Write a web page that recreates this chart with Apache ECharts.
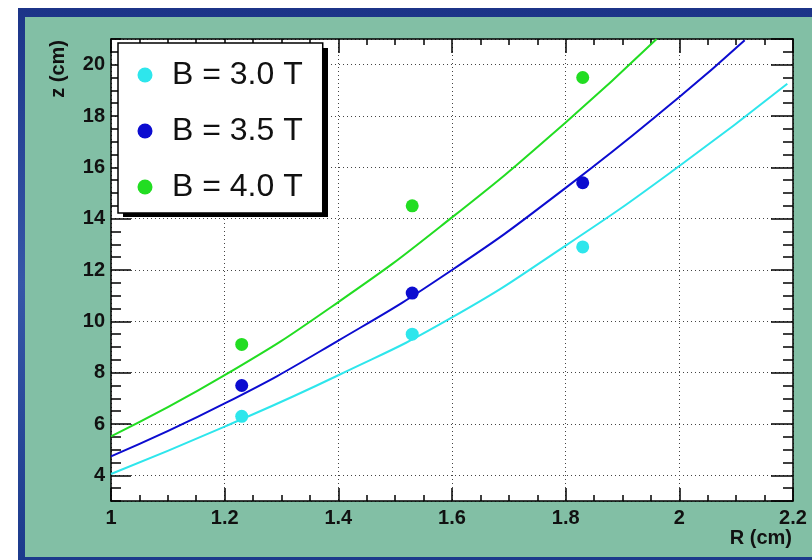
<!DOCTYPE html>
<html>
<head>
<meta charset="utf-8">
<script src="https://cdn.jsdelivr.net/npm/echarts@6/dist/echarts.min.js"></script>
<style>
  html, body { margin: 0; padding: 0; background: #fff; }
  #main { width: 812px; height: 560px; }
</style>
</head>
<body>
<div id="main"></div>
<script>
// measured points
var names = ['B = 3.0 T', 'B = 3.5 T', 'B = 4.0 T']
var colors = ['#2ee6ec', '#0c0cd0', '#22dd22']
var pointR = [1.23, 1.53, 1.83]
var pointZ30 = [6.3, 9.5, 12.9]
var pointZ35 = [7.5, 11.1, 15.4]
var pointZ40 = [9.1, 14.5, 19.5]

// fitted curves
var fitR30 = [1.0, 1.2, 1.4, 1.6, 1.8, 2.0, 2.19]
var fitZ30 = [4.05, 5.9, 7.9, 10.15, 12.95, 16.05, 19.26]
var fitR35 = [1.0, 1.2, 1.4, 1.6, 1.8, 2.0, 2.115]
var fitZ35 = [4.74, 6.8, 9.25, 12.0, 15.2, 18.74, 20.95]
var fitR40 = [1.0, 1.2, 1.4, 1.6, 1.8, 1.96]
var fitZ40 = [5.52, 7.9, 10.75, 14.05, 17.75, 21]

function pairs(xs, ys) {
  return xs.map(function (x, i) { return [x, ys[i]] })
}

var chart = echarts.init(document.getElementById('main'))
var font = 'Liberation Sans, Arial, sans-serif'
var black = '#111'

function scatter(i, ys) {
  return {
    name: names[i],
    type: 'scatter',
    symbolSize: 13,
    itemStyle: { color: colors[i], opacity: 1 },
    data: pairs(pointR, ys),
    z: 2
  }
}
function fit(i, xs, ys) {
  return {
    name: 'fit ' + names[i],
    type: 'line',
    smooth: true,
    showSymbol: false,
    lineStyle: { color: colors[i], width: 2 },
    data: pairs(xs, ys),
    z: 2
  }
}

var option = {
  backgroundColor: '#fff',
  animation: false,
  graphic: [
    {
      type: 'rect', z: -10, silent: true,
      shape: { x: 18, y: 8, width: 794, height: 552 },
      style: {
        fill: {
          type: 'linear', x: 0, y: 0, x2: 0, y2: 1,
          colorStops: [{ offset: 0, color: '#1c3488' }, { offset: 0.5, color: '#3656a8' }, { offset: 1, color: '#1c3a8c' }]
        }
      }
    },
    {
      type: 'rect', z: -9, silent: true,
      shape: { x: 25, y: 17, width: 787, height: 540 },
      style: { fill: '#82bfa5' }
    },
    // legend drop shadow
    {
      type: 'rect', z: 3, silent: true,
      shape: { x: 123, y: 48, width: 205, height: 169 },
      style: { fill: '#000' }
    },
    {
      type: 'text', x: 58, y: 40, rotation: Math.PI / 2,
      style: { text: 'z (cm)', align: 'right', verticalAlign: 'middle', font: 'bold 20px ' + font, fill: black }
    },
    {
      type: 'text', x: 792, y: 538,
      style: { text: 'R (cm)', align: 'right', verticalAlign: 'middle', font: 'bold 20px ' + font, fill: black }
    }
  ],
  grid: {
    left: 111, top: 39, width: 682, height: 462,
    show: true, backgroundColor: '#fff', borderWidth: 0
  },
  legend: {
    data: names,
    orient: 'vertical',
    left: 118, top: 43,
    width: 205,
    icon: 'circle',
    itemWidth: 15, itemHeight: 15,
    itemGap: 24,
    padding: [16, 20, 10, 19.5],
    backgroundColor: '#fff',
    borderColor: '#000', borderWidth: 1.5,
    z: 4,
    textStyle: { fontFamily: font, fontSize: 32, color: black, lineHeight: 32, padding: [0, 0, 0, 14.5] }
  },
  xAxis: [
    {
      type: 'value', position: 'bottom',
      min: 1, max: 2.2, interval: 0.2,
      axisLine: { lineStyle: { color: '#000', width: 1.5 } },
      axisTick: { inside: true, length: 13, lineStyle: { color: '#000', width: 1.5 } },
      minorTick: { show: true, splitNumber: 4, length: 6, lineStyle: { color: '#000', width: 1.5 } },
      splitLine: { show: true, lineStyle: { color: '#444', type: [1, 3], width: 1 } },
      axisLabel: { fontFamily: font, fontSize: 20, fontWeight: 'bold', color: black, margin: 7 }
    },
    {
      type: 'value', position: 'top',
      min: 1, max: 2.2, interval: 0.2,
      axisLine: { lineStyle: { color: '#000', width: 1.5 } },
      axisTick: { inside: true, length: 14, lineStyle: { color: '#000', width: 1.5 } },
      minorTick: { show: true, splitNumber: 4, length: 6, lineStyle: { color: '#000', width: 1.5 } },
      splitLine: { show: false },
      axisLabel: { show: false }
    }
  ],
  yAxis: [
    {
      type: 'value', position: 'left',
      min: 3, max: 21, splitNumber: 9,
      axisLine: { show: true, lineStyle: { color: '#000', width: 1.5 } },
      axisTick: { show: true, inside: true, length: 20, lineStyle: { color: '#000', width: 1.5 } },
      splitLine: { show: true, lineStyle: { color: '#444', type: [1, 3], width: 1 } },
      axisLabel: { fontFamily: font, fontSize: 20, fontWeight: 'bold', color: black, margin: 6, showMinLabel: false, showMaxLabel: false }
    },
    {
      type: 'value', position: 'left',
      min: 3, max: 21, interval: 0.5,
      axisLine: { show: false },
      axisTick: { show: true, inside: true, length: 10, lineStyle: { color: '#000', width: 1.5 } },
      splitLine: { show: false },
      axisLabel: { show: false }
    },
    {
      type: 'value', position: 'right',
      min: 3, max: 21, splitNumber: 9,
      axisLine: { show: true, lineStyle: { color: '#000', width: 1.5 } },
      axisTick: { show: true, inside: true, length: 22, lineStyle: { color: '#000', width: 1.5 } },
      splitLine: { show: false },
      axisLabel: { show: false }
    },
    {
      type: 'value', position: 'right',
      min: 3, max: 21, interval: 0.5,
      axisLine: { show: false },
      axisTick: { show: true, inside: true, length: 10, lineStyle: { color: '#000', width: 1.5 } },
      splitLine: { show: false },
      axisLabel: { show: false }
    }
  ],
  series: [
    fit(0, fitR30, fitZ30),
    fit(1, fitR35, fitZ35),
    fit(2, fitR40, fitZ40),
    scatter(0, pointZ30),
    scatter(1, pointZ35),
    scatter(2, pointZ40)
  ]
}
chart.setOption(option)
</script>
</body>
</html>
